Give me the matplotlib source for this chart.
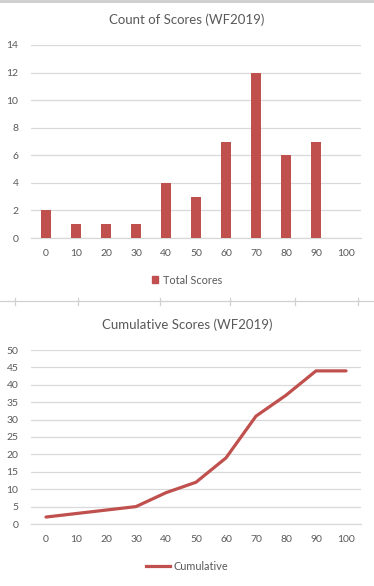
import matplotlib
matplotlib.use("Agg")
import matplotlib.pyplot as plt
from matplotlib.lines import Line2D
from matplotlib.patches import Rectangle

plt.rcParams['font.family'] = ['Lato', 'DejaVu Sans']

categories = ["0", "10", "20", "30", "40", "50", "60", "70", "80", "90", "100"]
counts = [2, 1, 1, 1, 4, 3, 7, 12, 6, 7, 0]
cumulative = [2, 3, 4, 5, 9, 12, 19, 31, 37, 44, 44]

RED = "#C0504D"
GRID = "#D9D9D9"
TXT = "#595959"

W, H = 374, 586
fig = plt.figure(figsize=(W / 100, H / 100), dpi=100)
fig.patch.set_facecolor("white")

def fx(px):
    return px / W

def fy(py):
    return 1 - py / H

x = list(range(len(categories)))

def style(ax, yticks):
    ax.set_xlim(-0.5, len(categories) - 0.5)
    ax.set_yticks(yticks)
    ax.set_xticks(x)
    ax.set_xticklabels(categories)
    ax.grid(axis="y", color=GRID, linewidth=0.9)
    ax.set_axisbelow(True)
    for s in ["top", "right", "left"]:
        ax.spines[s].set_visible(False)
    ax.spines["bottom"].set_color(GRID)
    ax.spines["bottom"].set_linewidth(0.9)
    ax.tick_params(length=0, labelsize=7.5, colors=TXT, pad=8)
    ax.tick_params(axis="y", pad=9)

# Top chart
ax1 = fig.add_axes([fx(31), fy(238), fx(330), fy(45) - fy(238)])
ax1.bar(x, counts, width=0.34, color=RED, zorder=3)
ax1.set_ylim(0, 14)
style(ax1, range(0, 15, 2))
fig.text(0.5, fy(20), "Count of Scores (WF2019)", ha="center", va="center", fontsize=9.5, color=TXT)
fig.legend(handles=[Rectangle((0, 0), 1, 1, color=RED)], labels=["Total Scores"],
           loc="center", bbox_to_anchor=(0.5, fy(280)), frameon=False, fontsize=7.8,
           handlelength=0.6, handleheight=0.6, handletextpad=0.4, labelcolor=TXT)

# Bottom chart
ax2 = fig.add_axes([fx(31), fy(524), fx(330), fy(350) - fy(524)])
ax2.plot(x, cumulative, color=RED, linewidth=2.3, zorder=3, solid_capstyle="round")
ax2.set_ylim(0, 50)
style(ax2, range(0, 51, 5))
fig.text(0.5, fy(325), "Cumulative Scores (WF2019)", ha="center", va="center", fontsize=9.5, color=TXT)
fig.legend(handles=[Line2D([0], [0], color=RED, linewidth=2.3)], labels=["Cumulative"],
           loc="center", bbox_to_anchor=(0.5, fy(566)), frameon=False, fontsize=7.8,
           handlelength=2.2, handletextpad=0.3, labelcolor=TXT)

# Decorative frame lines
fig.add_artist(Rectangle((0, fy(3)), 1, fy(0) - fy(3), transform=fig.transFigure,
                         color="#D0D0D0", lw=0))
fig.add_artist(Line2D([0, 1], [fy(301), fy(301)], transform=fig.transFigure, color="#D0D0D0", lw=0.9))
for px in [15, 78, 160, 230, 295, 358]:
    fig.add_artist(Line2D([fx(px), fx(px)], [fy(298), fy(305)], transform=fig.transFigure,
                          color="#D0D0D0", lw=0.9))

fig.savefig("out.png", dpi=100, facecolor="white")
